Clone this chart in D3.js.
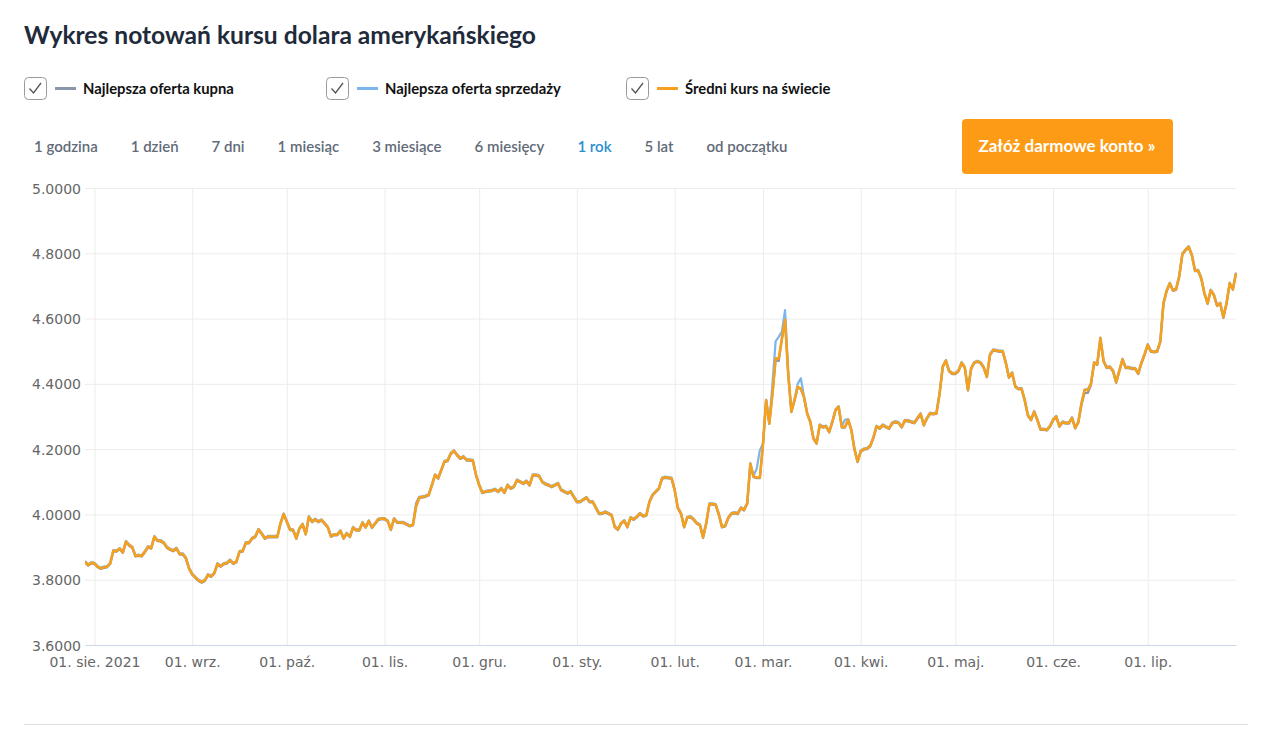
<!DOCTYPE html>
<html>
<head>
<meta charset="utf-8">
<script src="https://d3js.org/d3.v7.min.js"></script>
<style>
  body { margin: 0; background: #fff; }
  svg text { font-family: Lato, "Open Sans", sans-serif; }
  .axis text { font-family: "DejaVu Sans", sans-serif; }
</style>
</head>
<body>
<svg id="chart" width="1280" height="745"></svg>
<script>
// sampled days (weekday gaps where the picture shows no step)
const dates = [
  "2021-07-29","2021-07-30","2021-07-31",
  "2021-08-01","2021-08-02","2021-08-03","2021-08-04","2021-08-05","2021-08-06","2021-08-07","2021-08-08","2021-08-09","2021-08-10","2021-08-11","2021-08-12","2021-08-13","2021-08-14","2021-08-15","2021-08-16","2021-08-17","2021-08-18","2021-08-19","2021-08-20","2021-08-21","2021-08-22","2021-08-23","2021-08-24","2021-08-25","2021-08-26","2021-08-27","2021-08-28","2021-08-29","2021-08-30","2021-08-31",
  "2021-09-01","2021-09-02","2021-09-03","2021-09-04","2021-09-05","2021-09-06","2021-09-07","2021-09-08","2021-09-09","2021-09-10","2021-09-11","2021-09-12","2021-09-13","2021-09-14","2021-09-15","2021-09-16","2021-09-17","2021-09-18","2021-09-19","2021-09-20","2021-09-21","2021-09-22","2021-09-23","2021-09-24","2021-09-25","2021-09-26","2021-09-28","2021-09-29","2021-09-30",
  "2021-10-01","2021-10-02","2021-10-03","2021-10-04","2021-10-05","2021-10-06","2021-10-07","2021-10-08","2021-10-09","2021-10-10","2021-10-11","2021-10-12","2021-10-14","2021-10-15","2021-10-16","2021-10-17","2021-10-18","2021-10-19","2021-10-20","2021-10-21","2021-10-22","2021-10-23","2021-10-24","2021-10-25","2021-10-26","2021-10-27","2021-10-28","2021-10-30","2021-10-31",
  "2021-11-01","2021-11-02","2021-11-03","2021-11-04","2021-11-05","2021-11-07","2021-11-09","2021-11-10","2021-11-11","2021-11-12","2021-11-14","2021-11-15","2021-11-16","2021-11-17","2021-11-18","2021-11-20","2021-11-21","2021-11-22","2021-11-23","2021-11-24","2021-11-25","2021-11-26","2021-11-27","2021-11-28","2021-11-29","2021-11-30",
  "2021-12-01","2021-12-02","2021-12-03","2021-12-05","2021-12-06","2021-12-07","2021-12-08","2021-12-09","2021-12-10","2021-12-11","2021-12-12","2021-12-13","2021-12-15","2021-12-16","2021-12-17","2021-12-18","2021-12-19","2021-12-20","2021-12-21","2021-12-22","2021-12-23","2021-12-24","2021-12-26","2021-12-27","2021-12-29","2021-12-30","2021-12-31",
  "2022-01-01","2022-01-02","2022-01-04","2022-01-05","2022-01-06","2022-01-07","2022-01-08","2022-01-09","2022-01-10","2022-01-12","2022-01-13","2022-01-14","2022-01-15","2022-01-16","2022-01-17","2022-01-18","2022-01-19","2022-01-20","2022-01-21","2022-01-22","2022-01-23","2022-01-24","2022-01-25","2022-01-27","2022-01-28","2022-01-29","2022-01-31",
  "2022-02-01","2022-02-02","2022-02-03","2022-02-04","2022-02-05","2022-02-06","2022-02-07","2022-02-08","2022-02-09","2022-02-10","2022-02-11","2022-02-12","2022-02-13","2022-02-14","2022-02-15","2022-02-16","2022-02-17","2022-02-18","2022-02-19","2022-02-20","2022-02-21","2022-02-22","2022-02-23","2022-02-24","2022-02-25","2022-02-26","2022-02-27","2022-02-28",
  "2022-03-01","2022-03-02","2022-03-03","2022-03-04","2022-03-05","2022-03-06","2022-03-07","2022-03-08","2022-03-09","2022-03-10","2022-03-11","2022-03-12","2022-03-13","2022-03-14","2022-03-15","2022-03-16","2022-03-17","2022-03-18","2022-03-19","2022-03-20","2022-03-21","2022-03-22","2022-03-23","2022-03-24","2022-03-25","2022-03-26","2022-03-27","2022-03-28","2022-03-29","2022-03-30","2022-03-31",
  "2022-04-01","2022-04-02","2022-04-03","2022-04-04","2022-04-05","2022-04-06","2022-04-07","2022-04-08","2022-04-09","2022-04-10","2022-04-11","2022-04-12","2022-04-13","2022-04-14","2022-04-15","2022-04-16","2022-04-17","2022-04-18","2022-04-19","2022-04-20","2022-04-21","2022-04-22","2022-04-23","2022-04-24","2022-04-25","2022-04-26","2022-04-27","2022-04-28","2022-04-29","2022-04-30",
  "2022-05-01","2022-05-02","2022-05-03","2022-05-04","2022-05-05","2022-05-06","2022-05-07","2022-05-08","2022-05-09","2022-05-10","2022-05-11","2022-05-12","2022-05-13","2022-05-14","2022-05-15","2022-05-16","2022-05-17","2022-05-18","2022-05-19","2022-05-20","2022-05-21","2022-05-22","2022-05-23","2022-05-24","2022-05-25","2022-05-26","2022-05-27","2022-05-28","2022-05-29","2022-05-30","2022-05-31",
  "2022-06-01","2022-06-02","2022-06-03","2022-06-04","2022-06-05","2022-06-06","2022-06-07","2022-06-08","2022-06-09","2022-06-10","2022-06-11","2022-06-12","2022-06-13","2022-06-14","2022-06-15","2022-06-16","2022-06-17","2022-06-18","2022-06-19","2022-06-20","2022-06-21","2022-06-22","2022-06-23","2022-06-24","2022-06-25","2022-06-26","2022-06-27","2022-06-28","2022-06-29","2022-06-30",
  "2022-07-01","2022-07-02","2022-07-03","2022-07-04","2022-07-05","2022-07-06","2022-07-07","2022-07-08","2022-07-09","2022-07-10","2022-07-11","2022-07-12","2022-07-13","2022-07-14","2022-07-15","2022-07-16","2022-07-17","2022-07-18","2022-07-19","2022-07-20","2022-07-21","2022-07-22","2022-07-23","2022-07-24","2022-07-25","2022-07-26","2022-07-27","2022-07-28","2022-07-29"
];

// Średni kurs na świecie
const midRates = [
  3.855,3.845,3.852,
  3.850,3.840,3.835,3.838,3.840,3.850,3.889,3.888,3.895,3.884,3.917,3.906,3.899,3.873,3.875,3.873,3.886,3.901,3.897,3.932,3.920,3.919,3.913,3.899,3.893,3.889,3.896,3.879,3.879,3.866,3.835,
  3.817,3.807,3.798,3.793,3.798,3.815,3.810,3.820,3.849,3.841,3.849,3.851,3.860,3.850,3.855,3.886,3.888,3.913,3.913,3.927,3.932,3.954,3.942,3.927,3.932,3.932,3.932,3.973,4.001,
  3.978,3.954,3.952,3.927,3.957,3.970,3.940,3.993,3.978,3.985,3.978,3.983,3.961,3.933,3.938,3.938,3.950,3.927,3.942,3.932,3.960,3.952,3.952,3.975,3.961,3.980,3.960,3.985,3.987,
  3.987,3.980,3.954,3.987,3.976,3.975,3.965,3.968,4.026,4.052,4.056,4.060,4.090,4.121,4.111,4.162,4.165,4.187,4.195,4.182,4.172,4.177,4.167,4.167,4.165,4.121,
  4.090,4.067,4.070,4.073,4.077,4.070,4.080,4.067,4.090,4.080,4.085,4.105,4.095,4.102,4.090,4.121,4.121,4.118,4.100,4.093,4.090,4.085,4.095,4.075,4.065,4.070,4.054,
  4.039,4.039,4.052,4.039,4.039,4.021,4.003,4.003,4.008,3.998,3.962,3.954,3.973,3.981,3.962,3.990,3.985,3.993,4.003,3.995,3.998,4.039,4.060,4.080,4.111,4.114,4.111,
  4.075,4.020,4.003,3.962,3.991,3.993,3.985,3.973,3.968,3.930,3.973,4.032,4.032,4.030,4.000,3.962,3.965,3.990,4.003,4.005,4.003,4.020,4.014,4.034,4.155,4.116,4.113,4.113,
  4.215,4.350,4.279,4.370,4.478,4.478,4.540,4.596,4.432,4.315,4.350,4.391,4.386,4.360,4.310,4.284,4.233,4.218,4.274,4.268,4.270,4.253,4.284,4.320,4.330,4.268,4.268,4.290,4.260,4.200,4.162,
  4.194,4.200,4.202,4.210,4.235,4.270,4.264,4.274,4.268,4.264,4.280,4.284,4.281,4.268,4.288,4.287,4.284,4.281,4.295,4.308,4.274,4.295,4.310,4.308,4.310,4.370,4.453,4.471,4.440,4.432,
  4.432,4.440,4.465,4.450,4.381,4.447,4.465,4.469,4.465,4.450,4.422,4.490,4.504,4.502,4.500,4.500,4.465,4.420,4.434,4.392,4.385,4.385,4.350,4.304,4.290,4.315,4.290,4.261,4.261,4.259,4.270,
  4.290,4.300,4.270,4.283,4.280,4.280,4.296,4.265,4.283,4.340,4.381,4.381,4.400,4.465,4.460,4.540,4.470,4.450,4.452,4.440,4.405,4.440,4.475,4.450,4.450,4.447,4.447,4.432,4.464,4.490,
  4.520,4.500,4.498,4.500,4.530,4.647,4.685,4.708,4.687,4.690,4.730,4.798,4.810,4.820,4.795,4.747,4.747,4.723,4.677,4.647,4.687,4.672,4.640,4.647,4.604,4.647,4.708,4.690,4.739
];

// Najlepsza oferta kupna
const buyRates = [
  3.853,3.843,3.850,
  3.848,3.838,3.833,3.836,3.838,3.848,3.887,3.886,3.893,3.882,3.915,3.904,3.897,3.871,3.873,3.871,3.884,3.899,3.895,3.930,3.918,3.917,3.911,3.897,3.891,3.887,3.894,3.877,3.877,3.864,3.833,
  3.815,3.805,3.796,3.791,3.796,3.813,3.808,3.818,3.847,3.839,3.847,3.849,3.858,3.848,3.853,3.884,3.886,3.911,3.911,3.925,3.930,3.952,3.940,3.925,3.930,3.930,3.930,3.971,3.999,
  3.976,3.952,3.950,3.925,3.955,3.968,3.938,3.991,3.976,3.983,3.976,3.981,3.959,3.931,3.936,3.936,3.948,3.925,3.940,3.930,3.958,3.950,3.950,3.973,3.959,3.978,3.958,3.983,3.985,
  3.985,3.978,3.952,3.985,3.974,3.973,3.963,3.966,4.024,4.050,4.054,4.058,4.088,4.119,4.109,4.160,4.163,4.185,4.193,4.180,4.170,4.175,4.165,4.165,4.163,4.119,
  4.088,4.065,4.068,4.071,4.075,4.068,4.078,4.065,4.088,4.078,4.083,4.103,4.093,4.100,4.088,4.119,4.119,4.116,4.098,4.091,4.088,4.083,4.093,4.073,4.063,4.068,4.052,
  4.037,4.037,4.050,4.037,4.037,4.019,4.001,4.001,4.006,3.996,3.960,3.952,3.971,3.979,3.960,3.988,3.983,3.991,4.001,3.993,3.996,4.037,4.058,4.078,4.109,4.112,4.109,
  4.073,4.018,4.001,3.960,3.989,3.991,3.983,3.971,3.966,3.928,3.971,4.030,4.030,4.028,3.998,3.960,3.963,3.988,4.001,4.003,4.001,4.018,4.012,4.032,4.153,4.114,4.111,4.111,
  4.213,4.348,4.277,4.368,4.472,4.470,4.536,4.592,4.430,4.313,4.348,4.389,4.384,4.358,4.308,4.282,4.231,4.216,4.272,4.266,4.268,4.251,4.282,4.318,4.328,4.266,4.266,4.288,4.258,4.198,4.160,
  4.192,4.198,4.200,4.208,4.233,4.268,4.262,4.272,4.266,4.262,4.278,4.282,4.279,4.266,4.286,4.285,4.282,4.279,4.293,4.306,4.272,4.293,4.308,4.306,4.308,4.368,4.451,4.469,4.438,4.430,
  4.430,4.438,4.463,4.448,4.379,4.445,4.463,4.467,4.463,4.448,4.420,4.488,4.502,4.500,4.498,4.498,4.463,4.418,4.432,4.390,4.383,4.383,4.348,4.302,4.288,4.313,4.288,4.259,4.259,4.257,4.268,
  4.288,4.298,4.268,4.281,4.278,4.278,4.294,4.263,4.281,4.336,4.372,4.372,4.396,4.463,4.458,4.536,4.468,4.448,4.450,4.438,4.403,4.438,4.473,4.448,4.448,4.445,4.445,4.430,4.462,4.488,
  4.518,4.498,4.496,4.498,4.528,4.645,4.683,4.706,4.685,4.688,4.728,4.796,4.808,4.818,4.793,4.745,4.745,4.721,4.675,4.645,4.685,4.670,4.638,4.645,4.602,4.645,4.706,4.688,4.737
];

// Najlepsza oferta sprzedaży
const sellRates = [
  3.857,3.847,3.854,
  3.852,3.842,3.837,3.840,3.842,3.852,3.891,3.890,3.897,3.886,3.919,3.908,3.901,3.875,3.877,3.875,3.888,3.903,3.899,3.934,3.922,3.921,3.915,3.901,3.895,3.891,3.898,3.881,3.881,3.868,3.837,
  3.819,3.809,3.800,3.795,3.800,3.817,3.812,3.822,3.851,3.843,3.851,3.853,3.862,3.852,3.857,3.888,3.890,3.915,3.915,3.929,3.934,3.956,3.944,3.929,3.934,3.934,3.934,3.975,4.003,
  3.980,3.956,3.954,3.929,3.959,3.972,3.942,3.995,3.980,3.987,3.980,3.985,3.963,3.935,3.940,3.940,3.952,3.929,3.944,3.934,3.962,3.954,3.954,3.977,3.963,3.982,3.962,3.987,3.989,
  3.989,3.982,3.956,3.989,3.978,3.977,3.967,3.970,4.036,4.054,4.058,4.062,4.092,4.123,4.113,4.164,4.167,4.189,4.197,4.184,4.174,4.179,4.169,4.169,4.167,4.123,
  4.092,4.069,4.072,4.075,4.079,4.072,4.082,4.069,4.092,4.082,4.087,4.107,4.097,4.104,4.092,4.123,4.123,4.120,4.102,4.095,4.092,4.087,4.097,4.077,4.067,4.072,4.056,
  4.041,4.041,4.054,4.041,4.041,4.023,4.005,4.005,4.010,4.000,3.964,3.956,3.975,3.983,3.964,3.992,3.987,3.995,4.005,3.997,4.000,4.041,4.062,4.082,4.113,4.116,4.113,
  4.077,4.022,4.005,3.964,3.993,3.995,3.987,3.975,3.970,3.932,3.975,4.034,4.034,4.032,4.002,3.964,3.967,3.992,4.005,4.007,4.005,4.022,4.016,4.036,4.157,4.118,4.140,4.197,
  4.217,4.352,4.281,4.400,4.530,4.544,4.560,4.626,4.434,4.317,4.352,4.400,4.417,4.362,4.312,4.286,4.235,4.220,4.276,4.270,4.272,4.255,4.286,4.322,4.332,4.270,4.290,4.292,4.262,4.202,4.164,
  4.196,4.202,4.204,4.212,4.237,4.272,4.266,4.276,4.270,4.266,4.282,4.286,4.283,4.270,4.290,4.289,4.286,4.283,4.297,4.310,4.276,4.297,4.312,4.310,4.312,4.372,4.455,4.473,4.442,4.434,
  4.434,4.442,4.467,4.452,4.383,4.449,4.467,4.471,4.467,4.452,4.424,4.492,4.506,4.504,4.502,4.502,4.467,4.422,4.436,4.394,4.387,4.387,4.352,4.306,4.292,4.317,4.292,4.263,4.263,4.261,4.272,
  4.292,4.302,4.272,4.285,4.282,4.282,4.298,4.267,4.285,4.342,4.383,4.383,4.402,4.467,4.462,4.542,4.472,4.452,4.454,4.442,4.407,4.442,4.477,4.452,4.452,4.449,4.449,4.434,4.466,4.492,
  4.522,4.502,4.500,4.502,4.532,4.649,4.687,4.710,4.689,4.692,4.732,4.800,4.812,4.822,4.797,4.749,4.749,4.725,4.679,4.649,4.689,4.674,4.642,4.649,4.606,4.649,4.710,4.692,4.741
];

const seriesNames = ["Najlepsza oferta kupna", "Najlepsza oferta sprzedaży", "Średni kurs na świecie"];
const seriesColors = ["#8a96aa", "#7cb5ec", "#f5a01e"];
const rangeLabels = ["1 godzina", "1 dzień", "7 dni", "1 miesiąc", "3 miesiące", "6 miesięcy", "1 rok", "5 lat", "od początku"];
const activeRange = "1 rok";
const monthTicks = ["2021-08-01","2021-09-01","2021-10-01","2021-11-01","2021-12-01","2022-01-01","2022-02-01","2022-03-01","2022-04-01","2022-05-01","2022-06-01","2022-07-01"];
const monthLabels = ["01. sie. 2021","01. wrz.","01. paź.","01. lis.","01. gru.","01. sty.","01. lut.","01. mar.","01. kwi.","01. maj.","01. cze.","01. lip."];
const yTicks = [3.6, 3.8, 4.0, 4.2, 4.4, 4.6, 4.8, 5.0];

const svg = d3.select("svg#chart");
const parse = d3.timeParse("%Y-%m-%d");
const plot = { left: 85, right: 1236, top: 188, bottom: 645 };

const xScale = d3.scaleTime()
  .domain([parse(dates[0]), parse(dates[dates.length - 1])])
  .range([plot.left, plot.right]);
const yScale = d3.scaleLinear().domain([3.6, 5.0]).range([plot.bottom, plot.top]);

// title
svg.append("text")
  .attr("x", 24).attr("y", 44)
  .attr("font-size", 24.6).attr("font-weight", 700)
  .attr("fill", "#1f2b3a")
  .text("Wykres notowań kursu dolara amerykańskiego");

// legend with checkboxes
const legendX = [24, 326, 626];
seriesNames.forEach((name, i) => {
  const g = svg.append("g").attr("transform", `translate(${legendX[i]},77)`);
  g.append("rect").attr("x", 0.5).attr("y", 0.5).attr("width", 22).attr("height", 22).attr("rx", 4)
    .attr("fill", "#fff").attr("stroke", "#9a9a9a");
  g.append("path").attr("d", "M5.5,11.5 L9.5,16 L17,6")
    .attr("fill", "none").attr("stroke", "#555").attr("stroke-width", 1.3);
  g.append("line").attr("x1", 31).attr("x2", 52).attr("y1", 11.5).attr("y2", 11.5)
    .attr("stroke", seriesColors[i]).attr("stroke-width", 3);
  g.append("text").attr("x", 59).attr("y", 17)
    .attr("font-size", 14.8).attr("font-weight", 700).attr("fill", "#111")
    .text(name);
});

// range selector
let rx = 34;
rangeLabels.forEach(label => {
  const t = svg.append("text").attr("x", rx).attr("y", 152)
    .attr("font-size", 15).attr("font-weight", 600)
    .attr("fill", label === activeRange ? "#2a8fd0" : "#626b78")
    .text(label);
  rx += t.node().getComputedTextLength() + 33;
});

// call to action button
svg.append("rect").attr("x", 962).attr("y", 119).attr("width", 211).attr("height", 55).attr("rx", 4)
  .attr("fill", "#fd9a16");
svg.append("text").attr("x", 1067).attr("y", 152).attr("text-anchor", "middle")
  .attr("font-size", 17).attr("font-weight", 700).attr("fill", "#fff")
  .text("Załóż darmowe konto »");

// grid
const hGrid = svg.append("g")
  .attr("transform", `translate(${plot.left},0)`)
  .call(d3.axisLeft(yScale).tickValues(yTicks).tickSize(-(plot.right - plot.left)).tickFormat(""));
hGrid.select(".domain").remove();
hGrid.selectAll("line").attr("stroke", "#ececec");

const vGrid = svg.append("g")
  .attr("transform", `translate(0,${plot.bottom})`)
  .call(d3.axisBottom(xScale).tickValues(monthTicks.map(parse)).tickSize(-(plot.bottom - plot.top)).tickFormat(""));
vGrid.select(".domain").remove();
vGrid.selectAll("line").attr("stroke", "#ececec");

// axes
const yAxis = svg.append("g").attr("class", "axis")
  .attr("transform", `translate(${plot.left},0)`)
  .call(d3.axisLeft(yScale).tickValues(yTicks).tickSize(0).tickPadding(4).tickFormat(d3.format(".4f")));
yAxis.select(".domain").remove();
yAxis.selectAll("text").attr("font-size", 14).attr("fill", "#666").attr("dy", "0.36em");

const xAxis = svg.append("g").attr("class", "axis")
  .attr("transform", `translate(0,${plot.bottom})`)
  .call(d3.axisBottom(xScale).tickValues(monthTicks.map(parse)).tickSize(0).tickPadding(12)
    .tickFormat((d, i) => monthLabels[i]));
xAxis.select(".domain").attr("stroke", "#ccd6eb");
xAxis.selectAll("text").attr("font-size", 14).attr("fill", "#666");

// lines
svg.append("clipPath").attr("id", "clip")
  .append("rect").attr("x", plot.left).attr("y", plot.top - 5)
  .attr("width", plot.right - plot.left + 3).attr("height", plot.bottom - plot.top + 5);

const line = d3.line()
  .x(d => xScale(d.date))
  .y(d => yScale(d.value));

const seriesValues = [buyRates, sellRates, midRates];
const seriesWidths = [2.2, 2.2, 2.6];
seriesValues.forEach((vals, i) => {
  const pts = dates.map((d, j) => ({ date: parse(d), value: vals[j] }));
  svg.append("path")
    .datum(pts)
    .attr("clip-path", "url(#clip)")
    .attr("fill", "none")
    .attr("stroke", seriesColors[i])
    .attr("stroke-width", seriesWidths[i])
    .attr("stroke-linejoin", "round")
    .attr("d", line);
});

// bottom separator
svg.append("line").attr("x1", 24).attr("x2", 1248).attr("y1", 724.5).attr("y2", 724.5)
  .attr("stroke", "#dedede");
</script>
</body>
</html>
